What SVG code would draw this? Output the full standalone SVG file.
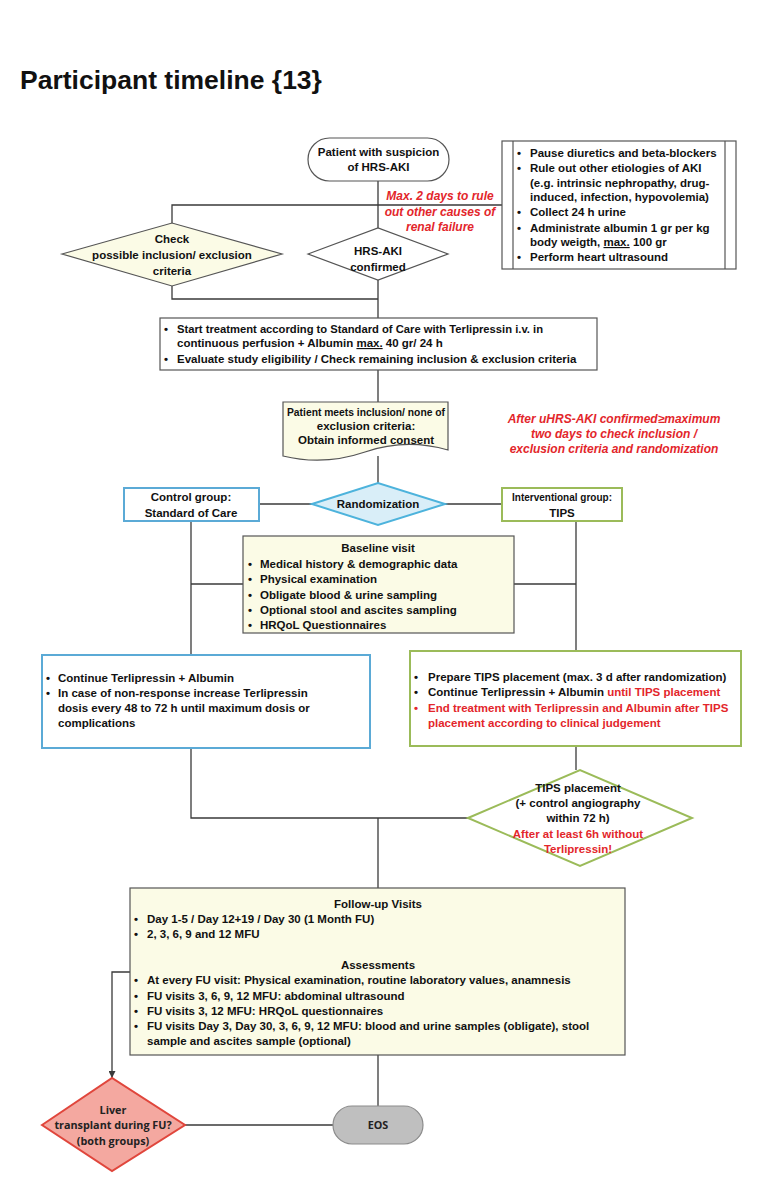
<svg xmlns="http://www.w3.org/2000/svg" width="773" height="1200" viewBox="0 0 773 1200">
<defs>
<style>
.b{font-family:'Liberation Sans',Arial,sans-serif;font-weight:bold;font-size:11.5px;fill:#111}
.c{text-anchor:middle}
.r{fill:#E3262B}
.ri{font-family:'Liberation Sans','Arial',sans-serif;font-weight:bold;font-style:italic;font-size:12px;fill:#E3262B;text-anchor:middle}
.cal{font-family:'Open Sans','Noto Sans',sans-serif;font-weight:bold;font-size:10.8px;fill:#222;text-anchor:middle}
.ln{fill:none;stroke:#3a3a3a;stroke-width:1.3}
.box{fill:#fff;stroke:#555;stroke-width:1.2}
.yel{fill:#FBFBE6;stroke:#555;stroke-width:1.2}
.blu{fill:#fff;stroke:#5BAAD6;stroke-width:2}
.grn{fill:#fff;stroke:#9BBB59;stroke-width:2}
</style>
<marker id="arr" viewBox="0 0 10 10" refX="10" refY="5" markerWidth="7" markerHeight="7" orient="auto" markerUnits="userSpaceOnUse">
<path d="M0,0 L10,5 L0,10 z" fill="#3a3a3a"/>
</marker>
</defs>
<rect width="773" height="1200" fill="#fff"/>
<text x="20" y="89" style="font-family:'Liberation Sans',Arial,sans-serif;font-weight:bold;font-size:26.5px;fill:#111">Participant timeline {13}</text>

<g id="connectors">
<path class="ln" d="M378,181 V228"/>
<path class="ln" d="M172,223 V205 H502"/>
<path class="ln" d="M172,286 V299 H378"/>
<path class="ln" d="M378,280 V318"/>
<path class="ln" d="M378,370 V402"/>
<path class="ln" d="M378,456 V483"/>
<path class="ln" d="M259,504 H312"/>
<path class="ln" d="M445,504 H502"/>
<path class="ln" d="M191,521 V655"/>
<path class="ln" d="M576,521 V651"/>
<path class="ln" d="M243,584 H191"/>
<path class="ln" d="M514,584 H576"/>
<path class="ln" d="M191,748 V818 H468"/>
<path class="ln" d="M576,746 V770"/>
<path class="ln" d="M378,818 V888"/>
<path class="ln" d="M130,972 H112 V1078" marker-end="url(#arr)"/>
<path class="ln" d="M378,1055 V1106"/>
<path class="ln" d="M185,1125 H333"/>
</g>

<g id="start">
<rect class="box" x="308" y="138" width="141" height="43" rx="21.5"/>
<text class="b c" x="378.5" y="156">Patient with suspicion</text>
<text class="b c" x="378.5" y="171">of HRS-AKI</text>
</g>

<g id="note-max2days">
<text class="ri" x="440" y="200">Max. 2 days to rule</text>
<text class="ri" x="440" y="216">out other causes of</text>
<text class="ri" x="440" y="231">renal failure</text>
</g>

<g id="pre-tasks">
<rect class="box" x="502" y="141" width="234" height="128"/>
<line x1="513" y1="141" x2="513" y2="269" stroke="#555" stroke-width="1.2"/>
<line x1="725" y1="141" x2="725" y2="269" stroke="#555" stroke-width="1.2"/>
<g class="b">
<text x="517" y="157">•</text><text x="530" y="157">Pause diuretics and beta-blockers</text>
<text x="517" y="172">•</text><text x="530" y="172">Rule out other etiologies of AKI</text>
<text x="530" y="187">(e.g. intrinsic nephropathy, drug-</text>
<text x="530" y="201">induced, infection, hypovolemia)</text>
<text x="517" y="216">•</text><text x="530" y="216">Collect 24 h urine</text>
<text x="517" y="232">•</text><text x="530" y="232">Administrate albumin 1 gr per kg</text>
<text x="530" y="246">body weigth, <tspan text-decoration="underline">max.</tspan> 100 gr</text>
<text x="517" y="261">•</text><text x="530" y="261">Perform heart ultrasound</text>
</g>
</g>

<g id="check-criteria">
<path d="M62,254 L172,223 L282,254 L172,286 Z" fill="#FBFBE6" stroke="#555" stroke-width="1.2"/>
<text class="b c" x="172" y="243">Check</text>
<text class="b c" x="172" y="259">possible inclusion/ exclusion</text>
<text class="b c" x="172" y="275">criteria</text>
</g>

<g id="hrs-confirmed">
<path class="box" d="M308,254 L378,228 L448,254 L378,280 Z"/>
<text class="b c" x="378" y="255">HRS-AKI</text>
<text class="b c" x="378" y="271">confirmed</text>
</g>

<g id="start-treatment">
<rect class="box" x="160" y="318" width="437" height="52"/>
<g class="b">
<text x="164" y="333">•</text><text x="177" y="333" textLength="366" lengthAdjust="spacingAndGlyphs">Start treatment according to Standard of Care with Terlipressin i.v. in</text>
<text x="177" y="347">continuous perfusion + Albumin <tspan text-decoration="underline">max.</tspan> 40 gr/ 24 h</text>
<text x="164" y="363">•</text><text x="177" y="363">Evaluate study eligibility /  Check remaining inclusion &amp; exclusion criteria</text>
</g>
</g>

<g id="consent">
<path class="yel" d="M283,402 H448 V450 Q406,438 365,452 T283,456 Z"/>
<text class="b c" x="366" y="416" textLength="158" lengthAdjust="spacingAndGlyphs">Patient meets inclusion/ none of</text>
<text class="b c" x="366" y="430">exclusion criteria:</text>
<text class="b c" x="366" y="444">Obtain informed consent</text>
</g>

<g id="note-2days">
<text class="ri" x="614" y="423">After uHRS-AKI confirmed≥maximum</text>
<text class="ri" x="614" y="438">two days to check inclusion /</text>
<text class="ri" x="614" y="453">exclusion criteria and randomization</text>
</g>

<g id="randomization">
<path d="M312,504 L378,483 L445,504 L378,525 Z" fill="#D9EEF8" stroke="#4DB3DC" stroke-width="2"/>
<text class="b c" x="378" y="508">Randomization</text>
</g>

<g id="control-group">
<rect class="blu" x="124" y="488" width="135" height="33"/>
<text class="b c" x="191" y="501">Control group:</text>
<text class="b c" x="191" y="517">Standard of Care</text>
</g>

<g id="interventional-group">
<rect class="grn" x="502" y="488" width="120" height="33"/>
<text class="b c" x="562" y="501" textLength="100" lengthAdjust="spacingAndGlyphs">Interventional group:</text>
<text class="b c" x="562" y="517">TIPS</text>
</g>

<g id="baseline">
<rect class="yel" x="243" y="536" width="271" height="97"/>
<g class="b">
<text class="c" x="378" y="552">Baseline visit</text>
<text x="248" y="568">•</text><text x="260" y="568">Medical history &amp; demographic data</text>
<text x="248" y="583">•</text><text x="260" y="583">Physical examination</text>
<text x="248" y="599">•</text><text x="260" y="599">Obligate blood &amp; urine sampling</text>
<text x="248" y="614">•</text><text x="260" y="614">Optional stool and ascites sampling</text>
<text x="248" y="629">•</text><text x="260" y="629">HRQoL Questionnaires</text>
</g>
</g>

<g id="control-treatment">
<rect class="blu" x="42" y="655" width="328" height="93"/>
<g class="b">
<text x="46" y="682">•</text><text x="58" y="682">Continue Terlipressin + Albumin</text>
<text x="46" y="697">•</text><text x="58" y="697">In case of non-response increase Terlipressin</text>
<text x="58" y="712">dosis every 48 to 72 h until maximum dosis or</text>
<text x="58" y="727">complications</text>
</g>
</g>

<g id="tips-treatment">
<rect class="grn" x="410" y="651" width="331" height="95"/>
<g class="b">
<text x="414" y="681">•</text><text x="428" y="681">Prepare TIPS placement (max. 3 d after randomization)</text>
<text x="414" y="696">•</text><text x="428" y="696">Continue Terlipressin + Albumin <tspan class="r">until TIPS placement</tspan></text>
<text x="414" y="712" class="r">•</text><text x="428" y="712" class="r">End treatment with Terlipressin and Albumin after TIPS</text>
<text x="428" y="727" class="r">placement according to clinical judgement</text>
</g>
</g>

<g id="tips-placement">
<path d="M468,818 L580,770 L692,818 L580,866 Z" fill="#fff" stroke="#9BBB59" stroke-width="2"/>
<text class="b c" x="578" y="792">TIPS placement</text>
<text class="b c" x="578" y="807">(+ control angiography</text>
<text class="b c" x="578" y="822">within 72 h)</text>
<text class="b c r" x="578" y="838">After at least 6h without</text>
<text class="b c r" x="578" y="853">Terlipressin!</text>
</g>

<g id="follow-up">
<rect class="yel" x="130" y="888" width="495" height="167"/>
<g class="b">
<text class="c" x="378" y="908">Follow-up Visits</text>
<text x="134" y="923">•</text><text x="147" y="923">Day 1-5 /  Day 12+19 /  Day 30 (1 Month FU)</text>
<text x="134" y="938">•</text><text x="147" y="938">2, 3, 6, 9 and 12 MFU</text>
<text class="c" x="378" y="969">Assessments</text>
<text x="134" y="984">•</text><text x="147" y="984">At every FU visit: Physical examination, routine laboratory values, anamnesis</text>
<text x="134" y="1000">•</text><text x="147" y="1000">FU visits 3, 6, 9, 12 MFU: abdominal ultrasound</text>
<text x="134" y="1015">•</text><text x="147" y="1015">FU visits 3, 12 MFU: HRQoL questionnaires</text>
<text x="134" y="1030">•</text><text x="147" y="1030">FU visits Day 3, Day 30, 3, 6, 9, 12 MFU: blood and urine samples (obligate), stool</text>
<text x="147" y="1045">sample and ascites sample (optional)</text>
</g>
</g>

<g id="liver-transplant">
<path d="M42,1125 L112,1078 L185,1125 L112,1171 Z" fill="#F4A8A0" stroke="#E0463C" stroke-width="2"/>
<text class="cal" x="113" y="1114">Liver</text>
<text class="cal" x="113" y="1129">transplant during FU?</text>
<text class="cal" x="113" y="1145">(both groups)</text>
</g>

<g id="eos">
<rect x="333" y="1106" width="90" height="38" rx="19" fill="#BFBFBF" stroke="#8C8C8C" stroke-width="1.2"/>
<text class="cal" x="378" y="1129">EOS</text>
</g>
</svg>
